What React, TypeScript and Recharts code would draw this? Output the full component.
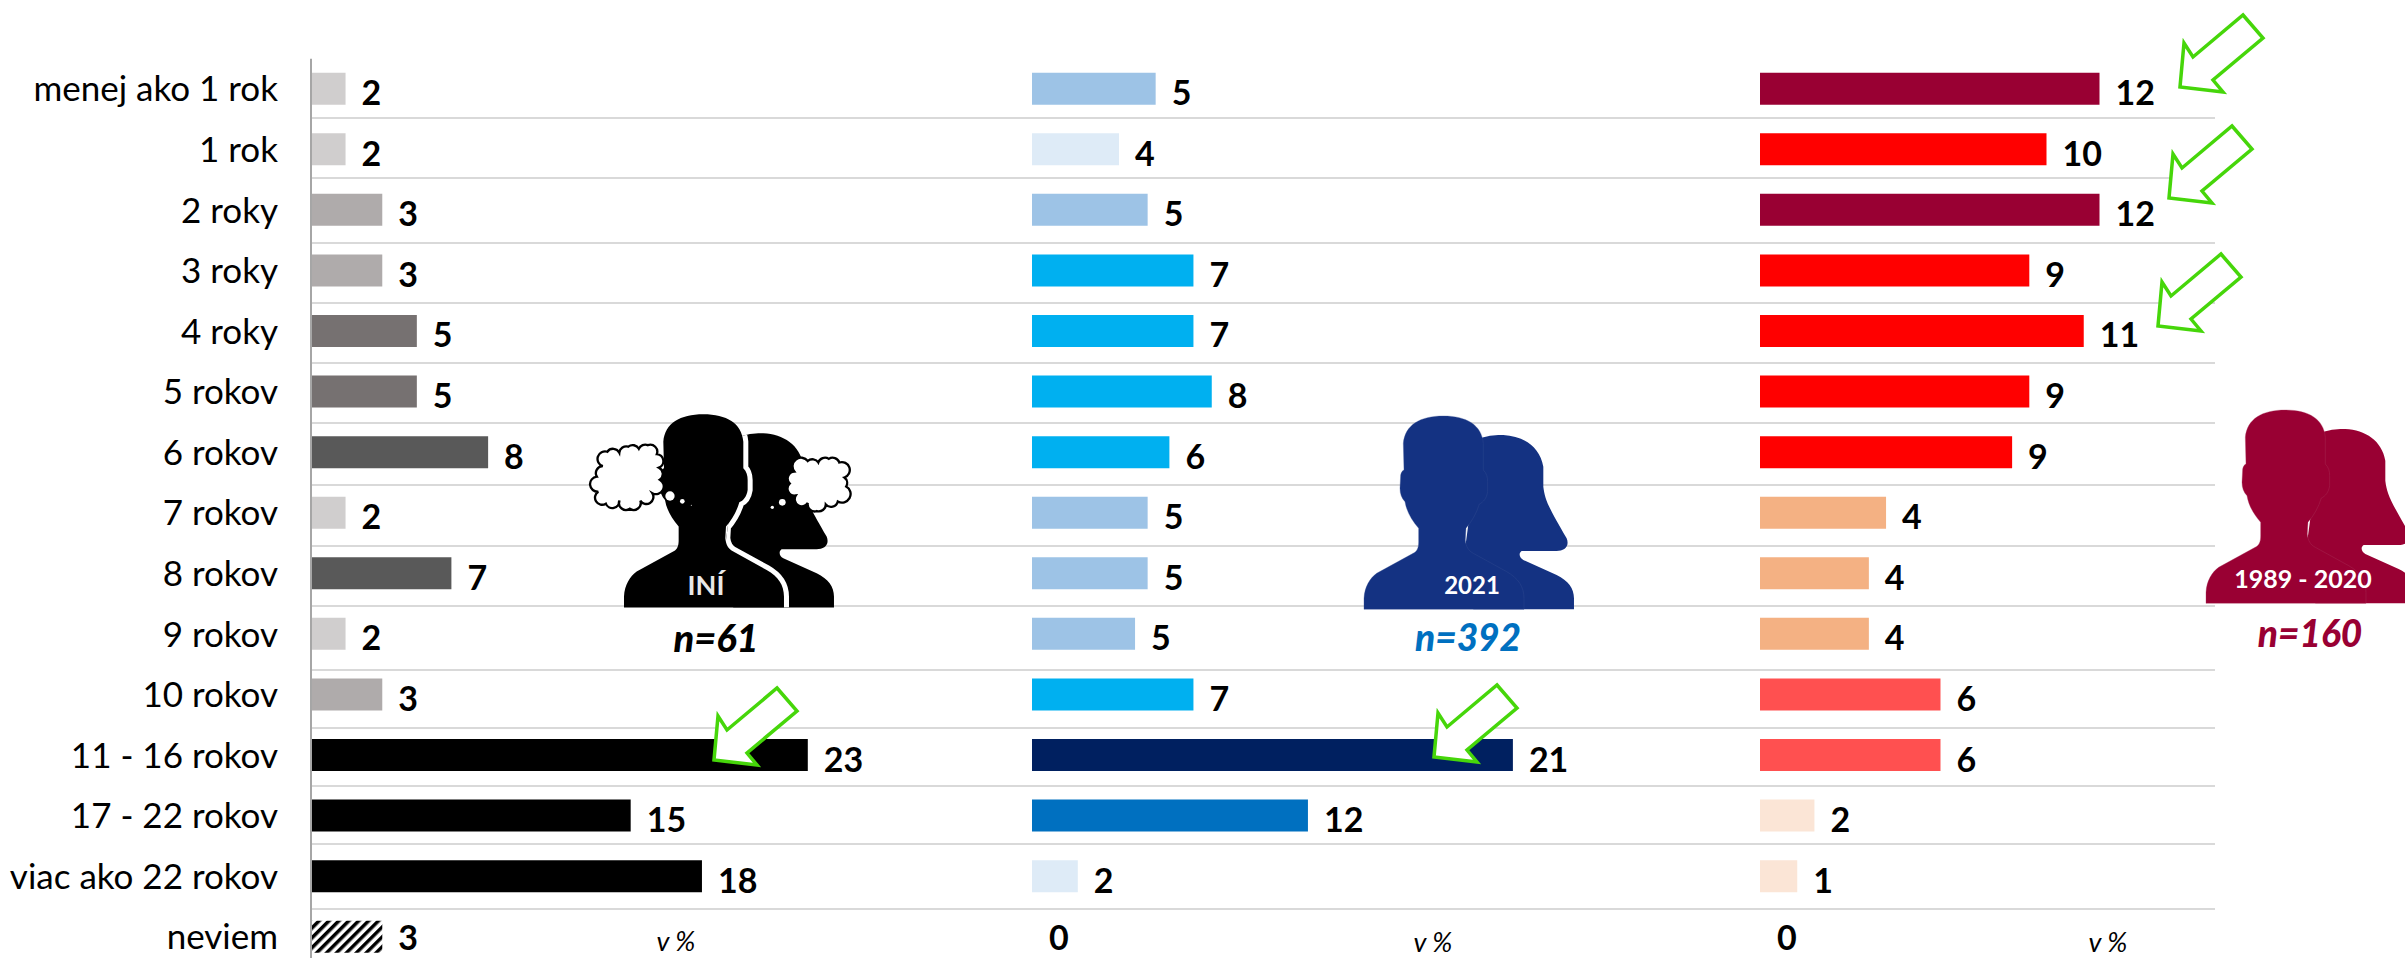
import { BarChart, Bar, XAxis, YAxis, CartesianGrid, Cell, LabelList } from 'recharts';

const categories = [
  'menej ako 1 rok', '1 rok', '2 roky', '3 roky', '4 roky', '5 rokov', '6 rokov', '7 rokov',
  '8 rokov', '9 rokov', '10 rokov', '11 - 16 rokov', '17 - 22 rokov', 'viac ako 22 rokov', 'neviem',
];

const otherValues = [1.6, 1.6, 3.3, 3.3, 4.9, 4.9, 8.2, 1.6, 6.5, 1.6, 3.3, 23, 14.8, 18.1, 3.3];
const otherLabels = [2, 2, 3, 3, 5, 5, 8, 2, 7, 2, 3, 23, 15, 18, 3];
const otherColors = [
  '#D0CECE', '#D0CECE', '#AFABAB', '#AFABAB', '#767171', '#767171', '#595959', '#D0CECE',
  '#595959', '#D0CECE', '#AFABAB', '#000000', '#000000', '#000000', 'url(#hatch)',
];

const y2021Values = [5.4, 3.8, 5.05, 7.05, 7.05, 7.85, 6, 5.05, 5.05, 4.5, 7.05, 21, 12.05, 2, 0];
const y2021Labels = [5, 4, 5, 7, 7, 8, 6, 5, 5, 5, 7, 21, 12, 2, 0];
const y2021Colors = [
  '#9DC3E6', '#DEEBF7', '#9DC3E6', '#00B0F0', '#00B0F0', '#00B0F0', '#00B0F0', '#9DC3E6',
  '#9DC3E6', '#9DC3E6', '#00B0F0', '#002060', '#0070C0', '#DEEBF7', 'transparent',
];

const olderValues = [11.85, 10, 11.85, 9.4, 11.3, 9.4, 8.8, 4.4, 3.8, 3.8, 6.3, 6.3, 1.9, 1.3, 0];
const olderLabels = [12, 10, 12, 9, 11, 9, 9, 4, 4, 4, 6, 6, 2, 1, 0];
const olderColors = [
  '#990033', '#FF0000', '#990033', '#FF0000', '#FF0000', '#FF0000', '#FF0000', '#F4B183',
  '#F4B183', '#F4B183', '#FF5050', '#FF5050', '#FBE5D6', '#FBE5D6', 'transparent',
];

const gridLines = [118, 178, 243, 303, 363, 423, 485, 546, 606, 670, 728, 786, 844, 909];

const FONT = 'Lato, Carlito, sans-serif';
const CHART_H = 968;
const MARGIN = { top: 58.7, right: 0, bottom: 0.7, left: 0 };

const table = (values: number[], labels: number[]) =>
  categories.map((name, i) => ({ name, value: values[i], label: labels[i] }));

const renderLabel = (p: any) => (
  <text
    x={p.x + p.width + 16}
    y={Math.min(p.y + p.height / 2 + 3, 936)}
    dominantBaseline="central"
    fontFamily={FONT}
    fontWeight={700}
    fontSize={34}
    fill="#000"
  >
    {String(p.value)}
  </text>
);

const Series = ({ left, width, pxPerUnit, values, labels, colors }: any) => (
  <div style={{ position: 'absolute', left, top: 0 }}>
    <BarChart layout="vertical" width={width} height={CHART_H} margin={MARGIN} data={table(values, labels)} barSize={32}>
      <XAxis type="number" hide domain={[0, width / pxPerUnit]} />
      <YAxis type="category" dataKey="name" hide />
      <Bar dataKey="value" isAnimationActive={false} minPointSize={1}>
        {colors.map((c: string, i: number) => <Cell key={i} fill={c} />)}
        <LabelList dataKey="label" content={renderLabel} />
      </Bar>
    </BarChart>
  </div>
);

// silhouettes, drawn at 3x, placed with a scale(1/3)
const MAN = 'M72 658 L72 625 C74 590 90 565 110 550 L225 487 C234 478 236 470 236 455 L236 415 C215 390 200 365 195 335 C185 325 180 312 180 295 L182 255 C184 245 188 242 192 240 L190 160 C195 105 240 78 310 78 C380 78 425 105 430 160 L430 240 C440 250 443 262 443 275 L443 305 C440 325 430 337 418 342 C410 370 395 395 378 415 L376 450 C378 470 385 482 400 490 L500 545 C535 565 552 590 552 625 L552 658 Z';
const WOMAN = 'M420 145 C450 135 470 135 490 135 C550 138 600 170 610 230 L610 290 C615 330 625 350 680 445 C690 470 672 483 650 483 L545 483 C535 490 538 503 550 510 L650 555 C685 572 702 595 702 625 L702 658 L400 658 L376 470 Z';

const Arrow = ({ dx, dy }: { dx: number; dy: number }) => (
  <polygon
    transform={`translate(${dx} ${dy})`}
    points="2243,15 2263,38 2213,80 2223,92 2180,87 2184,43 2193,57"
    fill="#fff"
    stroke="#46D60A"
    strokeWidth={3.5}
  />
);

const cloud = (pts: number[][], r: number, cx: number, cy: number) => {
  const s = pts.map(p => [cx + (p[0] - cx) * 0.9, cy + (p[1] - cy) * 0.9]);
  return `M${s[0][0]} ${s[0][1]} ` +
    s.slice(1).concat([s[0]]).map(p => `A${r} ${r} 0 0 1 ${p[0]} ${p[1]}`).join(' ') + ' Z';
};

const cloudLeft = [[120, 255], [135, 207], [175, 210], [205, 190], [240, 197], [270, 185], [300, 215], [307, 260], [310, 300], [285, 345], [245, 370], [210, 397], [175, 370], [130, 380], [105, 340], [100, 290]];
const cloudRight = [[695, 270], [740, 235], [775, 240], [810, 228], [845, 240], [862, 290], [868, 320], [840, 370], [800, 380], [770, 402], [740, 375], [700, 350], [680, 310]];

const captionStyle = { fontFamily: FONT, textAnchor: 'middle' } as const;

const Overlay = () => (
  <svg width={2405} height={958} style={{ position: 'absolute', left: 0, top: 0 }}>
    <defs>
      <clipPath id="womanClip"><path d={WOMAN} /></clipPath>
    </defs>
    {/* INI */}
    <g transform="translate(600 388.3) scale(0.3333)">
      <path d={WOMAN} fill="#000" />
      <path d={MAN} fill="none" stroke="#fff" strokeWidth={30} clipPath="url(#womanClip)" />
      <path d={MAN} fill="#000" />
    </g>
    <g transform="translate(560 380) scale(0.3333)">
      <path d={cloud(cloudLeft, 21, 205, 290)} fill="#fff" stroke="#000" strokeWidth={7} />
      <path d={cloud(cloudRight, 21, 775, 315)} fill="#fff" stroke="#000" strokeWidth={7} />
      <circle cx={330} cy={348} r={14} fill="#fff" />
      <circle cx={367} cy={364} r={7} fill="#fff" />
      <circle cx={394} cy={376} r={1.5} fill="#fff" />
      <circle cx={667} cy={367} r={10} fill="#fff" />
      <circle cx={637} cy={382} r={5} fill="#fff" />
    </g>
    <text x={706} y={595} {...captionStyle} fontSize={27} fontWeight={700} fill="#E8E8E8">INÍ</text>
    <text x={716} y={652} {...captionStyle} fontSize={38} fontWeight={900} fontStyle="italic" fill="#000">n=61</text>

    {/* 2021 */}
    <g transform="translate(1340 390) scale(0.3333)" fill="#143282">
      <path d={WOMAN} />
      <path d={MAN} stroke="#3A5394" strokeWidth={1} />
    </g>
    <text x={1472} y={594} {...captionStyle} fontSize={24} fontWeight={700} fill="#fff">2021</text>
    <text x={1468} y={651} {...captionStyle} fontSize={37} fontWeight={900} fontStyle="italic" fill="#0070C0">n=392</text>

    {/* 1989 - 2020 */}
    <g transform="translate(2182 384) scale(0.3333)" fill="#990033">
      <path d={WOMAN} />
      <path d={MAN} stroke="#AC3A60" strokeWidth={1} />
    </g>
    <text x={2303} y={588} {...captionStyle} fontSize={25} fontWeight={700} fill="#fff">1989 - 2020</text>
    <text x={2310} y={647} {...captionStyle} fontSize={37} fontWeight={900} fontStyle="italic" fill="#990033">n=160</text>

    <text x={676} y={951} {...captionStyle} fontSize={27} fontStyle="italic" fill="#000">v %</text>
    <text x={1433} y={952} {...captionStyle} fontSize={27} fontStyle="italic" fill="#000">v %</text>
    <text x={2108} y={952} {...captionStyle} fontSize={27} fontStyle="italic" fill="#000">v %</text>

    <Arrow dx={0} dy={0} />
    <Arrow dx={-11} dy={111} />
    <Arrow dx={-22} dy={239} />
    <Arrow dx={-1466} dy={673} />
    <Arrow dx={-746} dy={670} />
  </svg>
);

export default function App() {
  return (
    <div style={{ position: 'absolute', left: 0, top: 0, width: 2405, height: 958, overflow: 'hidden', background: '#fff' }}>
      <div style={{ position: 'absolute', left: 0, top: 0 }}>
        <BarChart
          layout="vertical"
          width={2215}
          height={CHART_H}
          margin={MARGIN}
          data={table(otherValues, otherLabels)}
          barSize={32}
        >
          <defs>
            <pattern id="hatch" patternUnits="userSpaceOnUse" width={7} height={7} patternTransform="rotate(45)">
              <rect width={7} height={7} fill="#fff" />
              <rect width={3.5} height={7} fill="#000" />
            </pattern>
          </defs>
          <CartesianGrid horizontal vertical={false} horizontalPoints={gridLines} stroke="#D9D9D9" strokeWidth={2} />
          <XAxis type="number" hide domain={[0, (2215 - 311) / 21.6]} />
          <YAxis
            type="category"
            dataKey="name"
            width={311}
            interval={0}
            tickLine={false}
            tickSize={0}
            tickMargin={33}
            axisLine={{ stroke: '#A6A6A6', strokeWidth: 2 }}
            tick={{ fill: '#000', fontSize: 35, fontFamily: FONT }}
          />
          <Bar dataKey="value" isAnimationActive={false}>
            {otherColors.map((c, i) => <Cell key={i} fill={c} />)}
            <LabelList dataKey="label" content={renderLabel} />
          </Bar>
        </BarChart>
      </div>
      <Series left={1032} width={1000} pxPerUnit={22.9} values={y2021Values} labels={y2021Labels} colors={y2021Colors} />
      <Series left={1760} width={600} pxPerUnit={28.65} values={olderValues} labels={olderLabels} colors={olderColors} />
      <Overlay />
    </div>
  );
}
